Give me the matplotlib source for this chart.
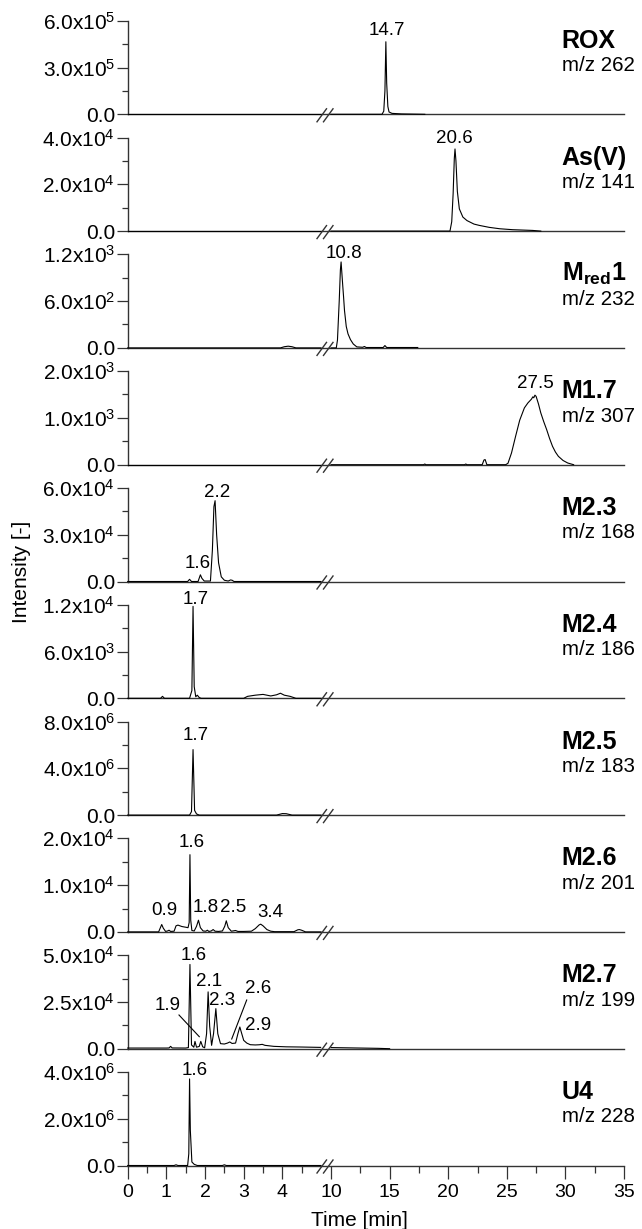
import numpy as np
import matplotlib
matplotlib.use('Agg')
import matplotlib.pyplot as plt
from matplotlib.lines import Line2D
import matplotlib.transforms as mtransforms

plt.rcParams['font.family'] = ['Liberation Sans', 'DejaVu Sans']
plt.rcParams['mathtext.fontset'] = 'custom'
plt.rcParams['mathtext.rm'] = 'Liberation Sans'
plt.rcParams['mathtext.bf'] = 'Liberation Sans:bold'
plt.rcParams['mathtext.it'] = 'Liberation Sans:italic'
plt.rcParams['mathtext.default'] = 'regular'

# ---------------- data ----------------
names = ['ROX', 'As(V)', r'$\mathbf{M_{red}1}$', 'M1.7', 'M2.3', 'M2.4', 'M2.5', 'M2.6', 'M2.7', 'U4']
mz = ['m/z 262', 'm/z 141', 'm/z 232', 'm/z 307', 'm/z 168', 'm/z 186', 'm/z 183', 'm/z 201', 'm/z 199', 'm/z 228']
ymax = [6e5, 4e4, 1.2e3, 2e3, 6e4, 1.2e4, 8e6, 2e4, 5e4, 4e6]
ytick_labels = [
    ['0.0', '3.0x10$^5$', '6.0x10$^5$'],
    ['0.0', '2.0x10$^4$', '4.0x10$^4$'],
    ['0.0', '6.0x10$^2$', '1.2x10$^3$'],
    ['0.0', '1.0x10$^3$', '2.0x10$^3$'],
    ['0.0', '3.0x10$^4$', '6.0x10$^4$'],
    ['0.0', '6.0x10$^3$', '1.2x10$^4$'],
    ['0.0', '4.0x10$^6$', '8.0x10$^6$'],
    ['0.0', '1.0x10$^4$', '2.0x10$^4$'],
    ['0.0', '2.5x10$^4$', '5.0x10$^4$'],
    ['0.0', '2.0x10$^6$', '4.0x10$^6$'],
]

rox_t = [0, 5, 10, 14.35, 14.5, 14.6, 14.68, 14.75, 14.85, 14.95, 15.2, 16.0, 17.4, 18.0]
rox_y = [0, 0, 0, 0, 2e4, 1.5e5, 4.65e5, 2.0e5, 5e4, 1.5e4, 6e3, 2.5e3, 8e2, 0]

asv_t = [0, 5, 10, 20.15, 20.3, 20.42, 20.52, 20.58, 20.66, 20.78, 20.95, 21.25, 21.6, 22.2,
         22.65, 23.5, 24.4, 25.5, 27.2, 27.9]
asv_y = [0, 0, 0, 0, 4000, 16000, 31000, 35100, 30000, 17000, 9500, 6000, 4500, 3000,
         2440, 1600, 1000, 600, 290, 0]

mred_t = [0, 3.95, 4.05, 4.15, 4.25, 4.35, 5, 10, 10.45, 10.55, 10.7, 10.8, 10.86, 10.93,
          11.0, 11.07, 11.15, 11.3, 11.45, 11.66, 11.9, 12.2, 12.7, 12.85, 13.0, 14.45, 14.6,
          14.75, 17.4]
mred_y = [0, 0, 15, 22, 15, 0, 0, 0, 0, 100, 600, 1000, 1102, 950,
          800, 657, 480, 275, 180, 106, 50, 13, 8, 18, 5, 5, 30, 5, 5]

m17_t = [0, 5, 10, 17.9, 18.0, 18.1, 21.4, 21.5, 21.6, 22.9, 23.05, 23.15, 23.3, 24.9, 25.1,
         25.4, 25.75, 26.1, 26.5, 26.8, 27.1, 27.22, 27.3, 27.4, 27.5, 27.7, 27.9, 28.15, 28.4,
         28.65, 28.9, 29.15, 29.4, 29.8, 30.2, 30.7]
m17_y = [0, 0, 0, 0, 15, 0, 0, 15, 0, 0, 100, 110, 0, 0, 30,
         250, 607, 950, 1214, 1320, 1400, 1450, 1430, 1486, 1460, 1300, 1107, 920, 750,
         560, 393, 270, 179, 90, 36, 0]

m23_t = [0, 1.0, 1.55, 1.6, 1.65, 1.82, 1.88, 1.92, 1.98, 2.14, 2.19, 2.23, 2.26, 2.3, 2.35,
         2.42, 2.5, 2.6, 2.66, 2.7, 2.75, 5]
m23_y = [0, 0, 0, 1400, 0, 0, 4300, 2000, 300, 300, 20000, 48000, 51800, 30000, 12000,
         3000, 800, 300, 1000, 800, 0, 0]

m24_t = [0, 0.85, 0.9, 0.95, 1.6, 1.66, 1.69, 1.72, 1.76, 1.8, 1.85, 1.9, 3.0, 3.1, 3.3, 3.5,
         3.7, 3.85, 3.95, 4.05, 4.2, 4.35, 5]
m24_y = [0, 0, 250, 0, 0, 1000, 11786, 1500, 200, 400, 100, 0, 0, 250, 400, 500,
         300, 450, 650, 400, 250, 0, 0]

m25_t = [0, 1.6, 1.65, 1.69, 1.73, 1.78, 1.85, 3.85, 4.0, 4.1, 4.25, 5]
m25_y = [0, 0, 3.0e5, 5.6e6, 4e5, 1e5, 0, 0, 1.3e5, 1.2e5, 0, 0]

m26_t = [0, 0.8, 0.84, 0.88, 0.92, 0.98, 1.03, 1.07, 1.11, 1.2, 1.25, 1.3, 1.4, 1.5, 1.56,
         1.59, 1.61, 1.63, 1.66, 1.72, 1.78, 1.83, 1.88, 1.95, 2.02, 2.06, 2.1, 2.16, 2.21,
         2.26, 2.35, 2.45, 2.51, 2.55, 2.6, 2.68, 2.79, 2.85, 3.0, 3.2, 3.3, 3.4, 3.44, 3.5,
         3.6, 3.7, 3.8, 4.3, 4.4, 4.44, 4.5, 4.6, 5]
m26_y = [0, 0, 800, 1580, 800, 100, 200, 360, 100, 150, 1300, 1450, 1150, 1000, 900,
         2000, 16500, 2500, 300, 200, 1200, 2500, 900, 200, 150, 360, 100, 200, 500,
         150, 100, 200, 1200, 2370, 900, 150, 300, 100, 100, 150, 700, 1500, 1650, 1300,
         500, 150, 50, 50, 450, 500, 350, 0, 0]

m27_t = [0, 1.0, 1.07, 1.11, 1.15, 1.5, 1.57, 1.61, 1.65, 1.71, 1.74, 1.78, 1.85, 1.89, 1.94,
         1.99, 2.04, 2.08, 2.12, 2.17, 2.22, 2.28, 2.33, 2.40, 2.5, 2.58, 2.64, 2.7, 2.79,
         2.85, 2.90, 2.95, 3.0, 3.08, 3.17, 3.3, 3.4, 3.48, 3.55, 3.78, 4.1, 4.47, 4.99,
         10, 11, 12, 13, 14, 15]
m27_y = [350, 350, 400, 1250, 400, 350, 600, 45000, 2000, 800, 3900, 800, 1200, 3900, 1000,
         500, 8000, 30357, 12000, 1800, 8000, 21400, 8000, 2700, 2500, 3000, 3600, 2800, 3000,
         8000, 11600, 8000, 4460, 3000, 2140, 2000, 2100, 2320, 1800, 1250, 1000, 900, 700,
         600, 500, 400, 300, 200, 0]

u4_t = [0, 1.2, 1.25, 1.3, 1.55, 1.58, 1.6, 1.62, 1.66, 1.72, 1.8, 2.45, 2.5, 2.55, 5]
u4_y = [0, 0, 3e4, 0, 0, 5e5, 3.7e6, 1.5e6, 1.5e5, 5e4, 0, 0, 3e4, 0, 0]

traces_t = [rox_t, asv_t, mred_t, m17_t, m23_t, m24_t, m25_t, m26_t, m27_t, u4_t]
traces_y = [rox_y, asv_y, mred_y, m17_y, m23_y, m24_y, m25_y, m26_y, m27_y, u4_y]

# peak labels: (text, time, axes-fraction height)
peak_labels = [
    [('14.7', 14.8, 0.90)],
    [('20.6', 20.49, 0.987)],
    [('10.8', 11.13, 1.007)],
    [('27.5', 27.43, 0.865)],
    [('2.2', 2.32, 0.955), ('1.6', 1.81, 0.19)],
    [('1.7', 1.77, 1.058)],
    [('1.7', 1.77, 0.85)],
    [('0.9', 0.94, 0.226), ('1.6', 1.65, 0.953), ('1.8', 2.01, 0.259), ('2.5', 2.73, 0.259),
     ('3.4', 3.69, 0.205)],
    [('1.6', 1.71, 1.0), ('2.1', 2.10, 0.716), ('2.3', 2.45, 0.51), ('2.6', 3.37, 0.645),
     ('2.9', 3.37, 0.25), ('1.9', 1.04, 0.457)],
    [('1.6', 1.72, 1.02)],
]

xticks_major = [0, 1, 2, 3, 4, 10, 15, 20, 25, 30, 35]
xticks_minor = [0.5, 1.5, 2.5, 3.5, 4.5, 12.5, 17.5, 22.5, 27.5, 32.5]

# ---------------- broken time scale ----------------
A1, GAP, A2 = 38.7, 2.0, 11.73


def fwd(t):
    t = np.asarray(t, float)
    return np.where(t <= 5, t * A1,
                    np.where(t < 10, 5 * A1 + (t - 5) * GAP, 5 * A1 + 5 * GAP + (t - 10) * A2))


def inv(u):
    u = np.asarray(u, float)
    u1 = 5 * A1
    u2 = u1 + 5 * GAP
    return np.where(u <= u1, u / A1, np.where(u < u2, 5 + (u - u1) / GAP, 10 + (u - u2) / A2))


W, H = 642, 1229
fig = plt.figure(figsize=(W / 100, H / 100), dpi=100)

LEFT, AW = 127.7, 496.3
TOP0, STEP, AH = 20.7, 116.8, 93.6
SPC = '#333333'

for i in range(10):
    top = TOP0 + i * STEP
    base = top + AH
    ax = fig.add_axes([LEFT / W, 1 - base / H, AW / W, AH / H])
    ax.set_xscale('function', functions=(fwd, inv))
    ax.set_xlim(0, 35)
    ax.set_ylim(0, ymax[i])
    for s in ['top', 'right']:
        ax.spines[s].set_visible(False)
    for s in ['left', 'bottom']:
        ax.spines[s].set_color(SPC)
        ax.spines[s].set_linewidth(1.0)

    t = np.array(traces_t[i], float)
    y = np.array(traces_y[i], float)
    m1 = t <= 5
    m2 = t >= 10
    ax.plot(t[m1], y[m1], color='black', lw=0.8, clip_on=False, zorder=3)
    ax.plot(t[m2], y[m2], color='black', lw=0.8, clip_on=False, zorder=3)

    ym = ymax[i]
    ax.set_yticks([0, ym / 2, ym])
    ax.set_yticklabels(ytick_labels[i])
    ax.set_yticks([ym / 4, 3 * ym / 4], minor=True)
    ax.tick_params(axis='y', which='major', direction='out', length=7.9, width=0.9,
                   color=SPC, labelsize=15, pad=1.2)
    ax.tick_params(axis='y', which='minor', direction='out', length=4.3, width=0.9, color=SPC)

    if i == 9:
        ax.set_xticks(xticks_major)
        ax.set_xticklabels([str(v) for v in xticks_major])
        ax.set_xticks(xticks_minor, minor=True)
        ax.tick_params(axis='x', which='major', direction='out', length=9.1, width=0.9,
                       color=SPC, labelsize=14, pad=4)
        ax.tick_params(axis='x', which='minor', direction='out', length=5.0, width=0.9,
                       color=SPC)
    else:
        ax.set_xticks([])
        ax.set_xticks([], minor=True)

    # panel name and m/z
    ax.text(0.8745, 0.786, names[i], transform=ax.transAxes, fontsize=18,
            fontweight='bold', ha='left', va='center')
    ax.text(0.8745, 0.52, mz[i], transform=ax.transAxes, fontsize=14.8,
            ha='left', va='center')

    # peak labels
    trans = mtransforms.blended_transform_factory(ax.transData, ax.transAxes)
    for (s, tx, fy) in peak_labels[i]:
        ax.text(tx, fy, s, transform=trans, fontsize=13.5, ha='center', va='center',
                clip_on=False)

    # axis break marks
    for x0 in (317.0, 323.5):
        xs = [x0 / W, (x0 + 9.5) / W]
        ys = [1 - (base + 7.5) / H, 1 - (base - 5.5) / H]
        fig.add_artist(Line2D(xs, ys, transform=fig.transFigure, color=SPC, lw=1.0))

# leader lines in M2.7
for (x0, y0, x1, y1) in [(179.0, 1015.0, 199.3, 1036.7), (246.7, 1000.0, 231.7, 1039.0)]:
    fig.add_artist(Line2D([x0 / W, x1 / W], [1 - y0 / H, 1 - y1 / H],
                          transform=fig.transFigure, color='black', lw=0.8))

fig.text(21.7 / W, 1 - 572 / H, 'Intensity [-]', rotation=90, ha='center', va='center',
         fontsize=15)
fig.text(359 / W, 1 - 1221.0 / H, 'Time [min]', ha='center', va='center', fontsize=15)

fig.savefig('out.png', dpi=100)
